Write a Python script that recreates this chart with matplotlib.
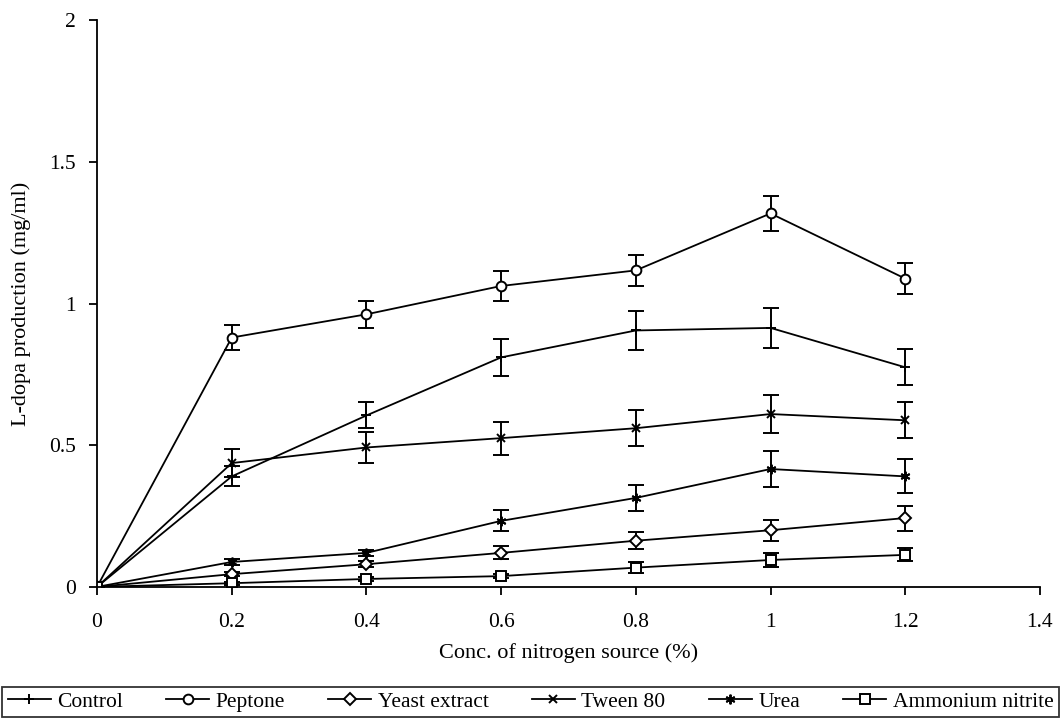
import matplotlib.pyplot as plt

plt.rcParams['font.family'] = ['Liberation Serif', 'DejaVu Serif']

conc = [0, 0.2, 0.4, 0.6, 0.8, 1.0, 1.2]

control = [0, 0.39, 0.605, 0.81, 0.905, 0.914, 0.775]
control_err = [0, 0.035, 0.046, 0.065, 0.068, 0.072, 0.063]
peptone = [0, 0.88, 0.962, 1.062, 1.117, 1.318, 1.088]
peptone_err = [0, 0.044, 0.048, 0.053, 0.055, 0.062, 0.054]
yeast = [0, 0.045, 0.08, 0.12, 0.163, 0.2, 0.243]
yeast_err = [0, 0.008, 0.01, 0.023, 0.03, 0.037, 0.044]
tween = [0, 0.437, 0.492, 0.525, 0.56, 0.61, 0.588]
tween_err = [0, 0.05, 0.055, 0.058, 0.064, 0.067, 0.064]
urea = [0, 0.088, 0.12, 0.233, 0.314, 0.416, 0.39]
urea_err = [0, 0.01, 0.01, 0.037, 0.046, 0.063, 0.06]
ammonium = [0, 0.013, 0.028, 0.038, 0.068, 0.095, 0.113]
ammonium_err = [0, 0.005, 0.006, 0.008, 0.02, 0.025, 0.023]

fig = plt.figure(figsize=(10.63, 7.21), dpi=100)
ax = fig.add_axes([0.0913, 0.186, 0.887, 0.786])

series = [
    ('Control', control, control_err, '+', 'none', 7),
    ('Peptone', peptone, peptone_err, 'o', 'white', 7),
    ('Yeast extract', yeast, yeast_err, 'D', 'white', 6),
    ('Tween 80', tween, tween_err, 'x', 'none', 6),
    ('Urea', urea, urea_err, (6, 2, 0), 'none', 7),
    ('Ammonium nitrite', ammonium, ammonium_err, 's', 'white', 7),
]

for name, vals, err, mk, fc, ms in series:
    ax.errorbar(conc, vals, yerr=err, color='black', lw=1.3, marker=mk,
                markerfacecolor=fc, markeredgecolor='black', markersize=ms,
                markeredgewidth=1.4, capsize=6, capthick=1.4, elinewidth=1.4,
                label=name)

ax.set_xlim(0, 1.4)
ax.set_ylim(0, 2)
ax.set_xticks([0, 0.2, 0.4, 0.6, 0.8, 1.0, 1.2, 1.4])
ax.set_xticklabels(['0', '0.2', '0.4', '0.6', '0.8', '1', '1.2', '1.4'])
ax.set_yticks([0, 0.5, 1, 1.5, 2])
ax.set_yticklabels(['0', '0.5', '1', '1.5', '2'])
ax.spines['top'].set_visible(False)
ax.spines['right'].set_visible(False)
ax.spines['left'].set_linewidth(1.3)
ax.spines['bottom'].set_linewidth(1.3)
ax.tick_params(direction='out', length=6, width=1.3, labelsize=15.5)
ax.tick_params(axis='x', pad=13)
ax.tick_params(axis='y', pad=9)

ax.set_xlabel('Conc. of nitrogen source (%)', fontsize=16, labelpad=8)
ax.set_ylabel('L-dopa production (mg/ml)', fontsize=16, labelpad=13)

handles, labels = ax.get_legend_handles_labels()
handles = [h[0] for h in handles]
leg = fig.legend(handles, labels, loc='lower left', ncol=6, mode='expand',
                 bbox_to_anchor=(0.002, 0.005, 0.994, 0.04), fontsize=15.5,
                 frameon=True, fancybox=False, edgecolor='black',
                 borderaxespad=0, handlelength=2.0, handletextpad=0.3,
                 borderpad=0.25)
leg.get_frame().set_linewidth(1.3)

plt.savefig('out.png', dpi=100)
plt.close()
